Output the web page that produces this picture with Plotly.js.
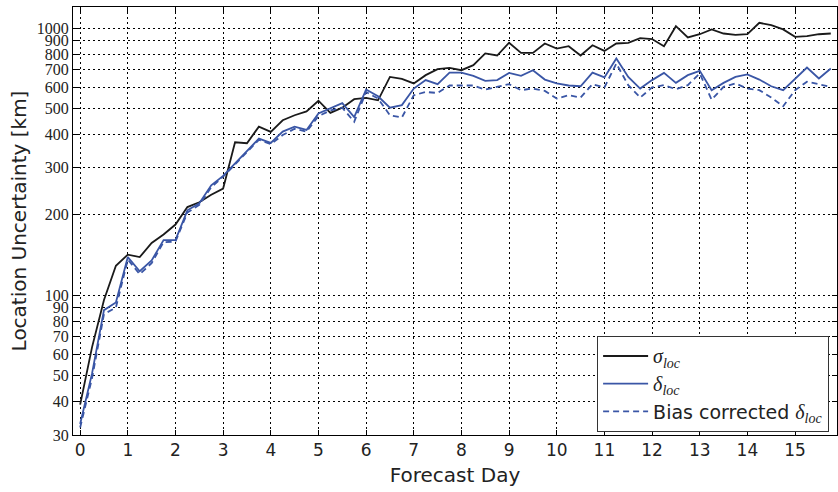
<!DOCTYPE html>
<html>
<head>
<meta charset="utf-8">
<script src="https://cdn.plot.ly/plotly-3.0.1.min.js"></script>
<style>html,body{margin:0;padding:0;background:#fff;}#chart{width:838px;height:492px;}</style>
</head>
<body>
<div id="chart"></div>
<script>
const days = [0,0.25,0.5,0.75,1,1.25,1.5,1.75,2,2.25,2.5,2.75,3,3.25,3.5,3.75,4,4.25,4.5,4.75,5,5.25,5.5,5.75,6,6.25,6.5,6.75,7,7.25,7.5,7.75,8,8.25,8.5,8.75,9,9.25,9.5,9.75,10,10.25,10.5,10.75,11,11.25,11.5,11.75,12,12.25,12.5,12.75,13,13.25,13.5,13.75,14,14.25,14.5,14.75,15,15.25,15.5,15.75];
const sigmaLoc = [39,64,96,129,142,139,157,169,184,214,223,238,251,374,371,428,409,452,472,488,535,482,504,542,548,537,657,646,621,667,702,710,696,727,804,790,882,808,808,876,839,856,790,863,822,876,881,917,910,856,1017,923,949,989,955,944,949,1047,1026,989,928,933,949,955];
const deltaLoc = [33,51,88,94,139,123,135,161,161,208,221,258,280,312,348,386,372,410,428,416,479,500,524,465,589,556,504,515,594,639,617,682,682,663,635,639,680,663,696,642,621,610,606,682,654,770,657,594,639,680,624,667,692,586,624,657,671,642,606,586,648,712,648,706];
const biasCorr = [32,49,85,90,136,120,132,158,159,204,218,254,278,309,344,382,368,398,420,410,468,492,504,446,577,545,472,463,561,577,572,610,610,610,589,603,617,586,594,582,545,561,550,617,600,737,612,550,600,612,591,612,677,540,603,621,594,586,550,510,586,630,617,603];
const yTickVals = [30,40,50,60,70,80,90,100,200,300,400,500,600,700,800,900,1000];
const yTickText = ['30','40','50','60','70','80','90','100','200','300','400','500','600','700','800','900','1000'];
const xTickVals = [0,1,2,3,4,5,6,7,8,9,10,11,12,13,14,15];

const serif = "'Liberation Serif', 'DejaVu Serif', serif";
const mathSpan = (g) => `<span style="font-family:${serif};font-size:20px"><i>${g}</i><sub><i>loc</i></sub></span>`;

const traces = [
  {x: days, y: sigmaLoc, mode: 'lines', name: mathSpan('σ'),
   line: {color: '#1a1a1a', width: 1.8}},
  {x: days, y: deltaLoc, mode: 'lines', name: mathSpan('δ'),
   line: {color: '#3a56a6', width: 1.8}},
  {x: days, y: biasCorr, mode: 'lines', name: 'Bias corrected ' + mathSpan('δ'),
   line: {color: '#3a56a6', width: 1.8, dash: '6px,4px'}}
];

const layout = {
  width: 838, height: 492,
  margin: {l: 73, r: 1, t: 7, b: 57},
  paper_bgcolor: '#ffffff', plot_bgcolor: '#ffffff',
  showlegend: true,
  font: {family: "'DejaVu Sans', sans-serif", color: '#222'},
  xaxis: {
    range: [-0.15, 15.88],
    tickvals: xTickVals,
    ticks: 'inside', ticklen: 5, tickcolor: '#000',
    showline: true, linecolor: '#000', linewidth: 1, mirror: 'ticks',
    showgrid: true, gridcolor: '#000', griddash: '2px,3px', gridwidth: 1,
    zeroline: false,
    tickfont: {family: "'DejaVu Sans', sans-serif", size: 17, color: '#222'},
    title: {text: 'Forecast Day', font: {family: "'DejaVu Sans', sans-serif", size: 20, color: '#222'}, standoff: 8}
  },
  yaxis: {
    type: 'log',
    range: [Math.log10(30), Math.log10(1200)],
    tickvals: yTickVals, ticktext: yTickText,
    ticks: 'inside', ticklen: 5, tickcolor: '#000',
    showline: true, linecolor: '#000', linewidth: 1, mirror: 'ticks',
    showgrid: true, gridcolor: '#000', griddash: '2px,3px', gridwidth: 1,
    zeroline: false,
    tickfont: {family: serif, size: 16, color: '#222'},
    title: {text: 'Location Uncertainty [km]', font: {family: "'DejaVu Sans', sans-serif", size: 20, color: '#222'}, standoff: 4}
  },
  legend: {
    x: 0.686, y: 0.231, xanchor: 'left', yanchor: 'top',
    bgcolor: '#ffffff', bordercolor: '#333', borderwidth: 1,
    font: {family: "'DejaVu Sans', sans-serif", size: 19, color: '#222'},
    itemwidth: 45,
    tracegroupgap: 0
  }
};

Plotly.newPlot('chart', traces, layout, {displayModeBar: false, staticPlot: true});
</script>
</body>
</html>
